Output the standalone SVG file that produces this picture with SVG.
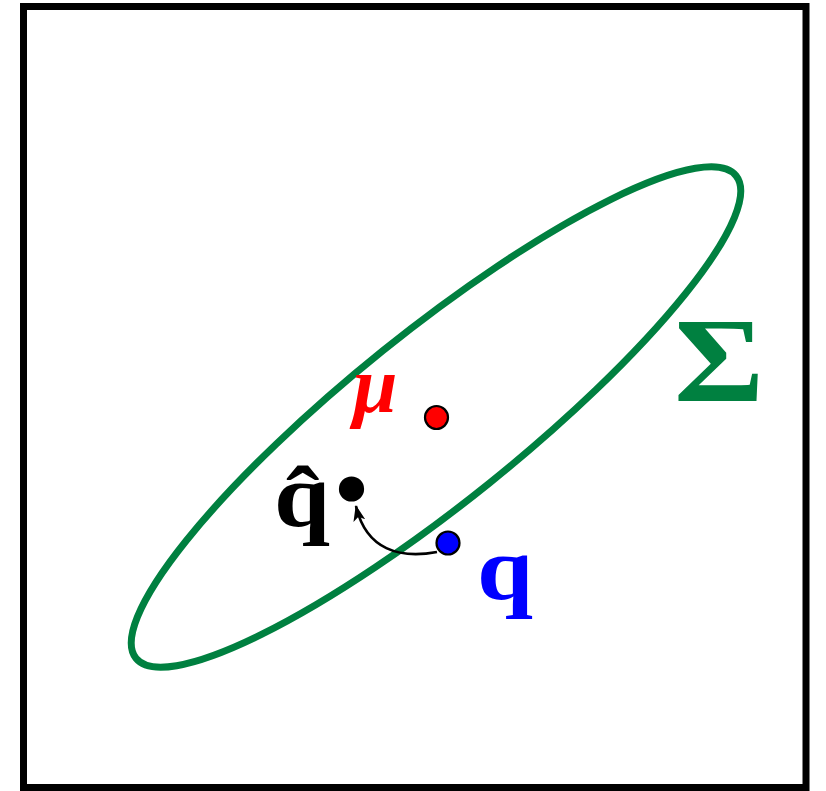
<svg xmlns="http://www.w3.org/2000/svg" width="826" height="791" viewBox="0 0 826 791">
<defs>
<style>
.lbl{font-family:"Liberation Serif","Times New Roman",serif;font-weight:bold}
.pt{stroke:#000;stroke-width:2.2}
</style>
<marker id="ah" viewBox="0 0 16 12" refX="15" refY="6" markerWidth="16" markerHeight="12" markerUnits="userSpaceOnUse" orient="auto">
<path d="M0,0 L16,6 L0,12 L4,6 Z" fill="#000"/>
</marker>
</defs>
<rect x="0" y="0" width="826" height="791" fill="#fff"/>
<rect id="frame" x="23.5" y="6.5" width="782.5" height="781" fill="none" stroke="#000" stroke-width="7"/>
<g id="sigma-ellipse">
<ellipse cx="436" cy="417" rx="385" ry="85" transform="rotate(-38.8 436 417)" fill="none" stroke="#008040" stroke-width="7"/>
<text class="lbl" transform="translate(674 401) scale(1.14 1)" font-size="121" fill="#008040">Σ</text>
</g>
<g id="connectors">
<path d="M437,552 C400,559 366,550 356,506" fill="none" stroke="#000" stroke-width="2.6" marker-end="url(#ah)"/>
</g>
<g id="mu">
<circle class="pt" cx="436.5" cy="417.5" r="11.5" fill="#f00"/>
<text class="lbl" x="353" y="412" font-size="80" font-style="italic" fill="#f00">μ</text>
</g>
<g id="qhat">
<circle class="pt" cx="351.5" cy="489" r="11.5" fill="#000"/>
<text class="lbl" transform="translate(274 527) scale(1.12 1)" font-size="90" fill="#000">q̂</text>
</g>
<g id="q">
<circle class="pt" cx="448" cy="543" r="11.5" fill="#00f"/>
<text class="lbl" transform="translate(477 600) scale(1.12 1)" font-size="90" fill="#00f">q</text>
</g>
</svg>
